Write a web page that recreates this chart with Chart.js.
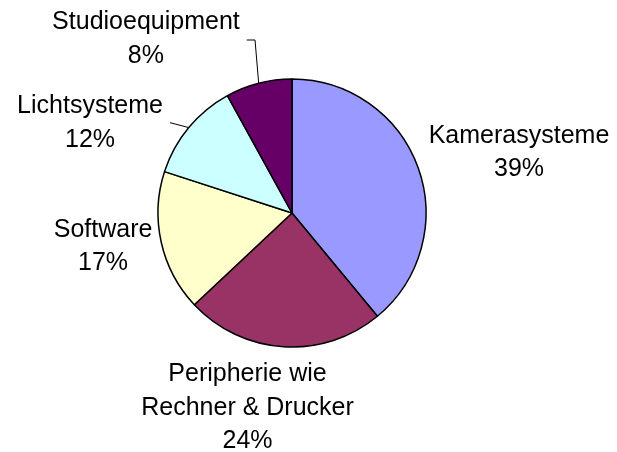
<!DOCTYPE html>
<html>
<head>
<meta charset="utf-8">
<script src="https://cdn.jsdelivr.net/npm/chart.js@4"></script>
<style>
html,body{margin:0;padding:0;background:#fff;}
#wrap{width:617px;height:452px;position:relative;}
</style>
</head>
<body>
<div id="wrap"><canvas id="c" width="617" height="452"></canvas></div>
<script>
const categories = ['Kamerasysteme', 'Peripherie wie\nRechner & Drucker', 'Software', 'Lichtsysteme', 'Studioequipment'];
const shares = [39, 24, 17, 12, 8];
const percentLabels = ['39%', '24%', '17%', '12%', '8%'];
const sliceColors = ['#9999FF', '#993366', '#FFFFCC', '#CCFFFF', '#660066'];

// label layout relative to pie center, in units of radius (first baseline, centered text)
const labelLayout = [
  {dx: 1.694, dy: -0.525},
  {dx: -0.332, dy: 1.254},
  {dx: -1.410, dy: 0.177},
  {dx: -1.507, dy: -0.744, leader: [[-0.910, -0.674]]},
  {dx: -1.090, dy: -1.371, leader: [[-0.338, -1.291], [-0.276, -1.291]]}
];

const labelPlugin = {
  id: 'pieLabels',
  afterDatasetsDraw(chart) {
    const ctx = chart.ctx;
    const meta = chart.getDatasetMeta(0);
    ctx.save();
    ctx.font = '25px "Liberation Sans", Arial, sans-serif';
    ctx.fillStyle = '#000';
    ctx.textAlign = 'center';
    ctx.textBaseline = 'alphabetic';
    const lineH = 33.7;
    meta.data.forEach((arc, i) => {
      const p = arc.getProps(['x', 'y', 'startAngle', 'endAngle', 'outerRadius']);
      const r = p.outerRadius;
      const L = labelLayout[i];
      const lines = categories[i].split('\n').concat([percentLabels[i]]);
      const x = p.x + L.dx * r;
      const y0 = p.y + L.dy * r;
      lines.forEach((t, k) => ctx.fillText(t, x, y0 + k * lineH));
      if (L.leader) {
        const mid = (p.startAngle + p.endAngle) / 2;
        ctx.beginPath();
        ctx.strokeStyle = '#000';
        ctx.lineWidth = 1;
        L.leader.forEach((pt, k) => {
          const px = p.x + pt[0] * r, py = p.y + pt[1] * r;
          if (k === 0) ctx.moveTo(px, py); else ctx.lineTo(px, py);
        });
        ctx.lineTo(p.x + Math.cos(mid) * r, p.y + Math.sin(mid) * r);
        ctx.stroke();
      }
    });
    ctx.restore();
  }
};

new Chart(document.getElementById('c'), {
  type: 'pie',
  data: {
    labels: categories,
    datasets: [{
      data: shares,
      backgroundColor: sliceColors,
      borderColor: '#000',
      borderWidth: 1.5,
      hoverBorderWidth: 1.5
    }]
  },
  options: {
    responsive: false,
    animation: false,
    layout: {padding: {left: 142, right: 175, top: 78.25, bottom: 104.25}},
    plugins: {legend: {display: false}, tooltip: {enabled: false}}
  },
  plugins: [labelPlugin]
});
</script>
</body>
</html>
